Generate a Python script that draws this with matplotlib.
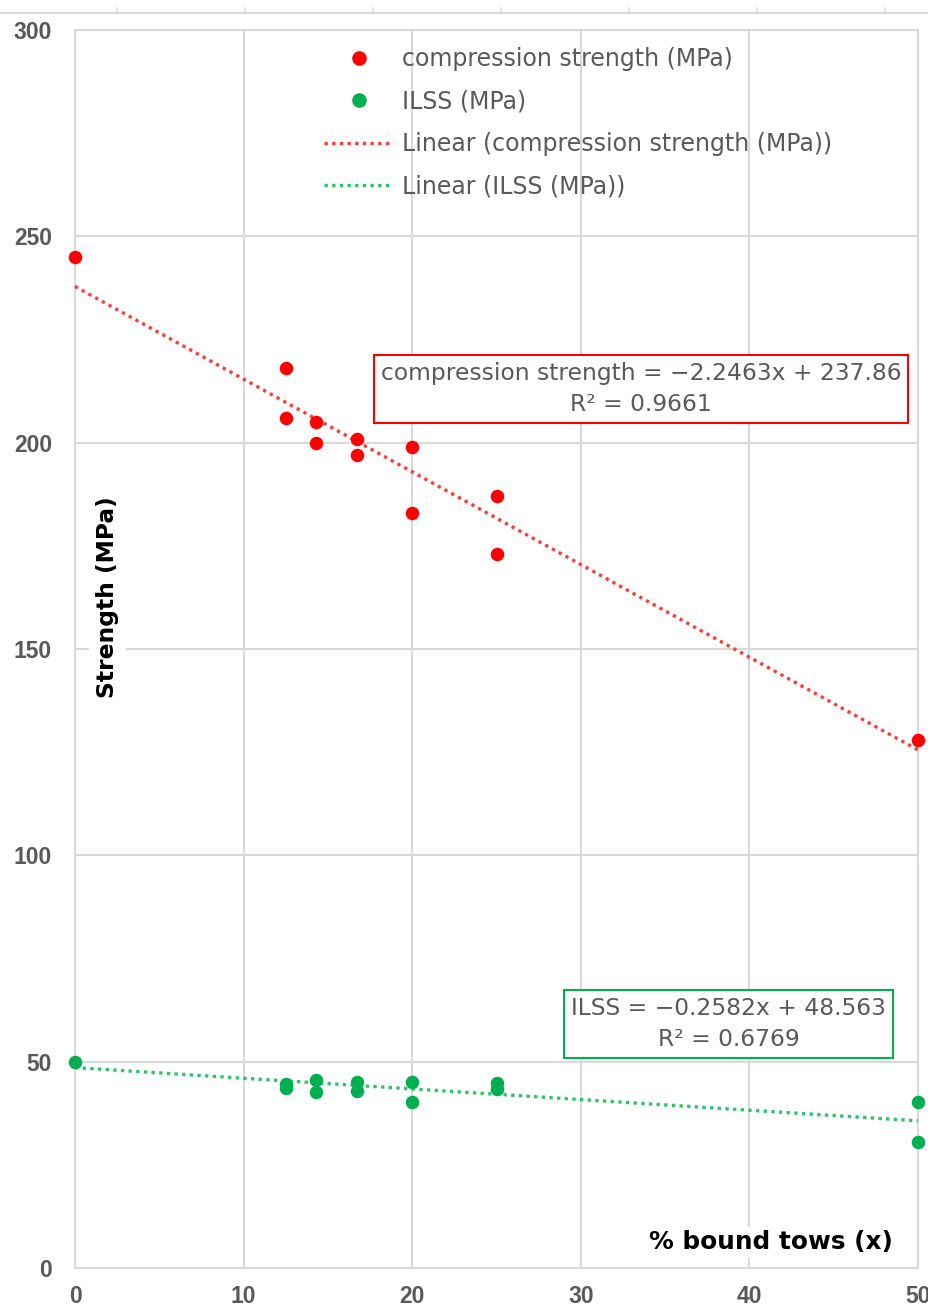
import numpy as np
import matplotlib
matplotlib.use("Agg")
import matplotlib.pyplot as plt
from matplotlib.patches import Rectangle
from matplotlib.lines import Line2D

# % bound tows and measured strengths (MPa)
comp_x = [0, 12.5, 12.5, 14.3, 14.3, 16.7, 16.7, 20, 20, 25, 25, 50]
comp_y = [245, 218, 206, 205, 200, 201, 197, 199, 183, 187, 173, 128]
ilss_x = [0, 12.5, 12.5, 14.3, 14.3, 16.7, 16.7, 20, 20, 25, 25, 50, 50]
ilss_y = [50, 44.5, 43.6, 45.5, 42.6, 45, 42.8, 45, 40.2, 44.8, 43.4, 40.2, 30.5]

# trendline coefficients shown on the chart
comp_fit = (-2.2463, 237.86, 0.9661)
ilss_fit = (-0.2582, 48.563, 0.6769)

x_ticks = [0, 10, 20, 30, 40, 50]
y_ticks = [0, 50, 100, 150, 200, 250, 300]

RED = "#ff0000"
GREEN = "#00b050"
GRID = "#d9d9d9"
TXT = "#595959"
TICKFONT = ["Liberation Sans", "DejaVu Sans"]

fig = plt.figure(figsize=(9.29, 13.06), dpi=100)
W, H = 929, 1306
ax = fig.add_axes([75 / W, 1 - 1268 / H, (918 - 75) / W, (1268 - 30) / H])

ax.set_xlim(0, 50)
ax.set_ylim(0, 300)
ax.set_xticks(x_ticks)
ax.set_yticks(y_ticks)
ax.grid(True, color=GRID, linewidth=1.5, zorder=0)
for s in ax.spines.values():
    s.set_color(GRID)
    s.set_linewidth(1.5)
ax.tick_params(length=0, labelsize=16.5, labelcolor=TXT)
ax.tick_params(axis="x", pad=12.5)
ax.tick_params(axis="y", pad=16.5)
for lab in ax.get_xticklabels() + ax.get_yticklabels():
    lab.set_family(TICKFONT)
    lab.set_fontweight("bold")

# white area behind legend covering gridlines
ax.add_patch(Rectangle((0.08, 0.8546), 0.91, 0.143, transform=ax.transAxes,
                       facecolor="white", edgecolor="none", zorder=1))

xs = np.array([0, 50])
ax.plot(xs, comp_fit[0] * xs + comp_fit[1], color="#ff3b3b", linestyle=(0, (1, 1.3)),
        linewidth=2.4, zorder=3, clip_on=False)
ax.plot(xs, ilss_fit[0] * xs + ilss_fit[1], color="#2cc46a", linestyle=(0, (1, 1.3)),
        linewidth=2.4, zorder=3, clip_on=False)
ax.scatter(comp_x, comp_y, s=95, color=RED, zorder=4, clip_on=False, linewidths=0)
ax.scatter(ilss_x, ilss_y, s=95, color=GREEN, zorder=4, clip_on=False, linewidths=0)

handles = [
    Line2D([], [], marker="o", color=RED, linestyle="none", markersize=9.5),
    Line2D([], [], marker="o", color=GREEN, linestyle="none", markersize=9.5),
    Line2D([], [], color="#ff3b3b", linestyle=(0, (1, 1.3)), linewidth=2.4),
    Line2D([], [], color="#2cc46a", linestyle=(0, (1, 1.3)), linewidth=2.4),
]
labels = ["compression strength (MPa)", "ILSS (MPa)",
          "Linear (compression strength (MPa))", "Linear (ILSS (MPa))"]
leg = ax.legend(handles, labels, loc="upper left", bbox_to_anchor=(0.2755, 0.9995),
                frameon=False, fontsize=17, handlelength=2.95, handletextpad=0.35,
                labelspacing=0.78, borderpad=0.2)
for t in leg.get_texts():
    t.set_color(TXT)
leg.set_zorder(5)

ax.text(33.57, 213, "compression strength = \u22122.2463x + 237.86\nR\u00b2 = 0.9661",
        ha="center", va="center", multialignment="center", fontsize=16.8, color=TXT,
        linespacing=1.45, zorder=6,
        bbox=dict(boxstyle="square,pad=0.3", facecolor="white", edgecolor=RED, linewidth=1.5))
ax.text(38.76, 59.1, "ILSS = \u22120.2582x + 48.563\nR\u00b2 = 0.6769",
        ha="center", va="center", multialignment="center", fontsize=16.8, color=TXT,
        linespacing=1.45, zorder=6,
        bbox=dict(boxstyle="square,pad=0.3", facecolor="white", edgecolor=GREEN, linewidth=1.5))

ax.text(0.97, 0.021, "% bound tows (x)", transform=ax.transAxes, ha="right", va="center",
        fontsize=17.8, fontweight="bold", color="black", zorder=6,
        bbox=dict(facecolor="white", edgecolor="none", pad=2))
ax.text(0.038, 0.542, "Strength (MPa)", transform=ax.transAxes, ha="center", va="center",
        rotation=90, fontsize=16.8, fontweight="bold", color="black", zorder=6,
        bbox=dict(facecolor="white", edgecolor="none", pad=5))

# remnant axis line at the very top of the image
fig.add_artist(Line2D([0, 1], [1 - 13 / H, 1 - 13 / H], color=GRID, linewidth=1.5))
for px in range(117, W, 128):
    fig.add_artist(Line2D([px / W, px / W], [1 - 13 / H, 1 - 8 / H], color=GRID, linewidth=1.2))

fig.savefig("out.png", dpi=100)
